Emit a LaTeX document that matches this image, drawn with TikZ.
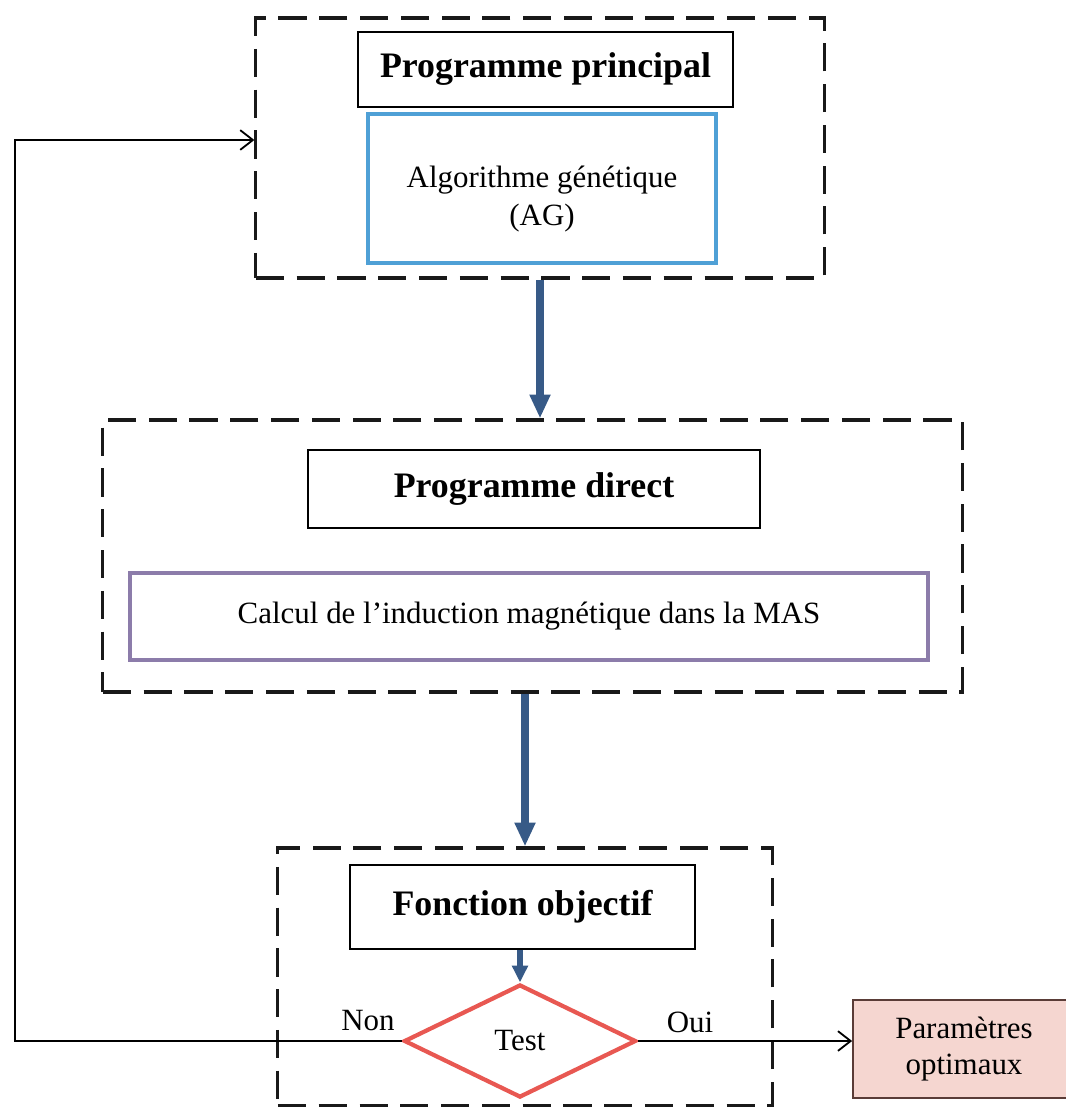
\documentclass[tikz,border=0pt]{standalone}
\usepackage{fontspec}
\setmainfont{Liberation Serif}
\usetikzlibrary{shapes.geometric,arrows.meta}
\definecolor{agblue}{RGB}{79,160,214}
\definecolor{calcpurple}{RGB}{140,124,170}
\definecolor{testred}{RGB}{232,88,82}
\definecolor{flowblue}{RGB}{55,90,135}
\definecolor{resultpink}{RGB}{245,214,208}
\definecolor{resultedge}{RGB}{90,60,55}
\newcommand{\headfont}{\fontsize{25.5}{28}\selectfont\bfseries}
\newcommand{\bodyfont}{\fontsize{22}{25}\selectfont}
\begin{document}
\begin{tikzpicture}[x=0.025cm,y=-0.025cm,
  frame/.style={draw=black!90,line width=2.2pt,dash pattern=on 20pt off 9pt,inner sep=0pt},
  headbox/.style={draw=black,line width=1.2pt,inner sep=0pt,font=\headfont},
  bluebox/.style={draw=agblue,line width=3pt,inner sep=0pt,font=\bodyfont,align=center},
  purplebox/.style={draw=calcpurple,line width=3pt,inner sep=0pt,font=\bodyfont},
  testshape/.style={diamond,draw=testred,line width=3pt,inner sep=0pt,font=\bodyfont},
  resultbox/.style={draw=resultedge,line width=1.2pt,fill=resultpink,inner sep=0pt,font=\bodyfont,align=center},
  bigarrow/.style={draw=flowblue,line width=5pt,-{Triangle[width=14pt,length=17pt]}},
  smallarrow/.style={draw=flowblue,line width=4pt,-{Triangle[width=11pt,length=12pt]}},
  thinline/.style={draw=black,line width=1.3pt},
  lbl/.style={font=\bodyfont,inner sep=0pt}
]
\useasboundingbox (0,0) rectangle (1065,1108);

% Programme principal
\node[frame,minimum width=14.2cm,minimum height=6.5cm] (frame1) at (540,148) {};
\node[headbox,minimum width=9.375cm,minimum height=1.875cm] (principal) at (545.5,69.5) {Programme principal};
\node[bluebox,minimum width=8.7cm,minimum height=3.725cm] (ag) at (542,188.5)
  {\raisebox{-8pt}[\height][\depth]{\begin{tabular}{@{}c@{}}Algorithme génétique\\[2pt](AG)\end{tabular}}};

% Programme direct
\node[frame,minimum width=21.475cm,minimum height=6.8cm] (frame2) at (532.5,556) {};
\node[headbox,minimum width=11.3cm,minimum height=1.95cm] (direct) at (534,489) {Programme direct};
\node[purplebox,minimum width=19.95cm,minimum height=2.175cm] (calcul) at (529,616.5) {Calcul de l’induction magnétique dans la MAS};

% Fonction objectif and test
\node[frame,minimum width=12.35cm,minimum height=6.425cm] (frame3) at (525,976.5) {};
\node[headbox,minimum width=8.625cm,minimum height=2.1cm] (objectif) at (522.5,907) {Fonction objectif};
\node[testshape,minimum width=5.8cm,minimum height=2.825cm] (test) at (520,1041) {Test};

% Result
\node[resultbox,minimum width=5.55cm,minimum height=2.45cm] (params) at (964,1049) {Paramètres\\optimaux};

% Labels
\node[lbl] (non) at (368,1021) {Non};
\node[lbl] (oui) at (690,1022) {Oui};

% Flow between blocks
\draw[bigarrow] (frame1.south) -- (frame1.south |- frame2.north);
\draw[bigarrow] (frame2.south -| frame3.north) -- (frame3.north);
\draw[smallarrow] (test.north |- objectif.south) -- (test.north);

% Loop back and result
\coordinate (loop) at (15,140);
\draw[thinline,-{Straight Barb[length=9pt,width=14pt,line width=1.3pt]}] (test.west) -| (loop) -- (loop -| frame1.west);
\draw[thinline,-{Straight Barb[length=9pt,width=14pt,line width=1.3pt]}] (test.east) -- (test.east -| params.west);
\end{tikzpicture}
\end{document}
